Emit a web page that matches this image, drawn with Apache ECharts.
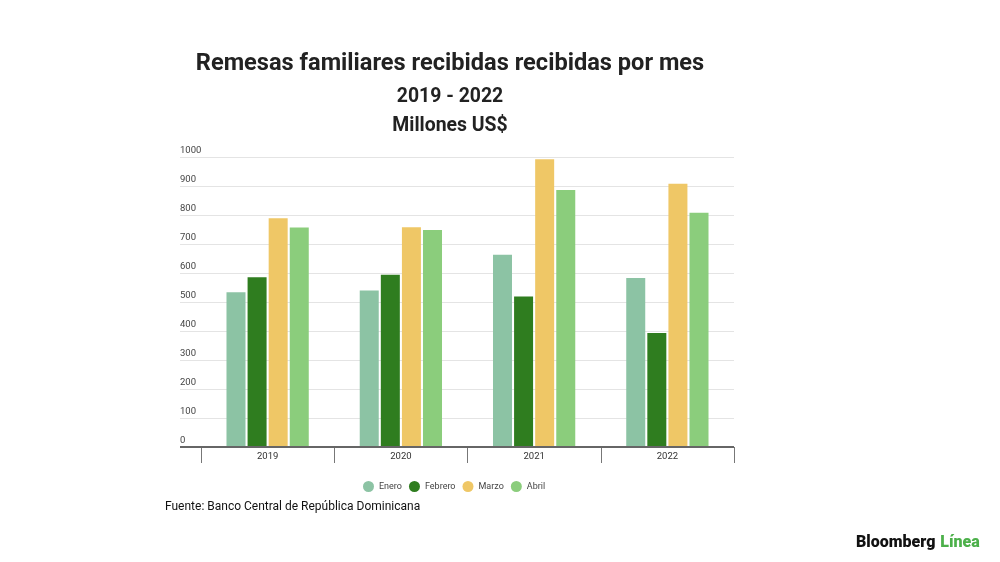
<!DOCTYPE html>
<html><head><meta charset="utf-8">
<script src="https://cdn.jsdelivr.net/npm/echarts@6/dist/echarts.min.js"></script>
<style>html,body{margin:0;padding:0;background:#fff}#c{width:1000px;height:562px}</style>
</head><body><div id="c"></div>
<script>
const years = ['2019', '2020', '2021', '2022'];
const seriesNames = ['Enero', 'Febrero', 'Marzo', 'Abril'];
const enero = [534, 540, 663, 583];
const febrero = [585, 594, 519, 393];
const marzo = [789, 758, 992, 908];
const abril = [757, 748, 886, 808];
const yTicks = [0, 100, 200, 300, 400, 500, 600, 700, 800, 900, 1000];
const colors = ['#8cc3a4', '#2f7d1f', '#efc766', '#8bcd7c'];

const values = [enero, febrero, marzo, abril];
const chart = echarts.init(document.getElementById('c'), null, {renderer: 'canvas'});
const F = 'Roboto, "Noto Sans", sans-serif';
const G = {top: 157, bottom: 562 - 447};
chart.setOption({
  backgroundColor: '#fff',
  animation: false,
  color: colors,
  title: [
    {text: 'Remesas familiares recibidas recibidas por mes', left: 450, top: 52, textAlign: 'center', padding: 0,
     textStyle: {fontFamily: F, fontSize: 23.6, fontWeight: 'bold', color: '#222'}},
    {text: '2019 - 2022', left: 450, top: 88, textAlign: 'center', padding: 0,
     textStyle: {fontFamily: F, fontSize: 19.4, fontWeight: 'bold', color: '#222'}},
    {text: 'Millones US$', left: 450, top: 117, textAlign: 'center', padding: 0,
     textStyle: {fontFamily: F, fontSize: 19.4, fontWeight: 'bold', color: '#222'}},
    {text: 'Fuente: Banco Central de República Dominicana', left: 165, top: 501, padding: 0,
     textStyle: {fontFamily: F, fontSize: 12, fontWeight: 'normal', color: '#111'}},
    {text: '{a|Bloomberg} {b|Línea}', left: 856, top: 534, padding: 0,
     textStyle: {rich: {a: {fontFamily: F, fontSize: 16, fontWeight: 900, color: '#111'},
                        b: {fontFamily: F, fontSize: 16, fontWeight: 900, color: '#4cb04a'}}}}
  ],
  legend: {
    data: seriesNames, left: 363, top: 481, padding: 0,
    icon: 'circle', itemWidth: 11, itemHeight: 11, itemGap: 7,
    textStyle: {fontFamily: F, fontSize: 9, color: '#444'}
  },
  grid: [
    {left: 180, right: 266, top: G.top, bottom: G.bottom},
    {left: 201, right: 266, top: G.top, bottom: G.bottom}
  ],
  xAxis: [
    {type: 'category', gridIndex: 0, data: ['x'], show: false},
    {type: 'category', gridIndex: 1, data: years, boundaryGap: true,
     axisLine: {show: false},
     axisTick: {show: true, length: 16, lineStyle: {color: '#777', width: 1}, alignWithLabel: false},
     axisLabel: {fontFamily: F, fontSize: 9.5, color: '#333', margin: 5}}
  ],
  yAxis: [
    {type: 'value', gridIndex: 0, min: 0, max: 1000, interval: 100,
     axisLine: {show: false}, axisTick: {show: false},
     splitLine: {lineStyle: {color: '#e4e4e4', width: 1}},
     axisLabel: {inside: true, margin: 0, verticalAlign: 'bottom', padding: [0, 0, 1, 0],
                 fontFamily: F, fontSize: 9.5, color: '#444',
                 formatter: v => yTicks.includes(v) ? String(v) : ''}},
    {type: 'value', gridIndex: 1, min: 0, max: 1000, interval: 100, show: false, splitLine: {show: false}}
  ],
  series: seriesNames.map((n, i) => ({
    name: n, type: 'bar', xAxisIndex: 1, yAxisIndex: 1,
    data: values[i], barWidth: 19, barGap: '11%',
    itemStyle: {color: colors[i]}
  })).concat([{
    type: 'line', xAxisIndex: 0, yAxisIndex: 0, data: [],
    markLine: {silent: true, symbol: 'none', label: {show: false},
      lineStyle: {color: '#666', width: 2, type: 'solid'},
      data: [{yAxis: 0}]}
  }])
});
</script></body></html>
